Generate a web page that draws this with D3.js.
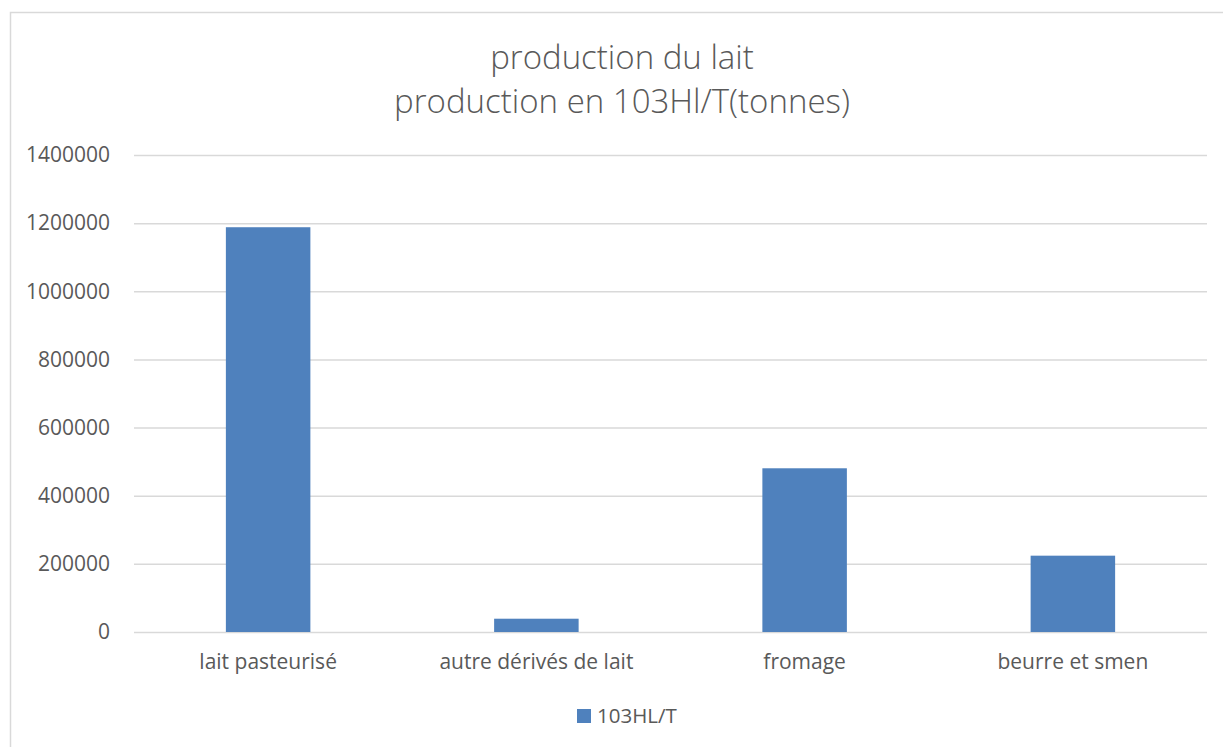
<!DOCTYPE html>
<html>
<head>
<meta charset="utf-8">
<script src="https://cdn.jsdelivr.net/npm/d3@7"></script>
<style>
  html, body { margin: 0; padding: 0; background: #fff; }
  svg { display: block; }
  text { font-family: "Open Sans", "Liberation Sans", sans-serif; fill: #595959; }
</style>
</head>
<body>
<svg id="chart" width="1223" height="747"></svg>
<script>
// Dairy production by product
const categories = ["lait pasteurisé", "autre dérivés de lait", "fromage", "beurre et smen"];
const values = [1188000, 39000, 480500, 224000];
const yTicks = [0, 200000, 400000, 600000, 800000, 1000000, 1200000, 1400000];
const titleLines = ["production du lait", "production en 103Hl/T(tonnes)"];
const seriesName = "103HL/T";

const svg = d3.select("#chart");
const W = 1223, H = 747;
const plot = { left: 134, right: 1207, top: 155, bottom: 632 };
const barColor = "#4f81bd";
const gridColor = "#d9d9d9";

svg.append("rect").attr("width", W).attr("height", H).attr("fill", "#fff");
// chart frame
svg.append("rect")
  .attr("x", 10.5).attr("y", 12.5)
  .attr("width", 1400).attr("height", 900)
  .attr("fill", "none").attr("stroke", gridColor).attr("stroke-width", 1.5);

// title
svg.append("g").selectAll("text").data(titleLines).join("text")
  .attr("x", 622)
  .attr("y", (d, i) => 69 + i * 44)
  .attr("text-anchor", "middle")
  .style("font-size", "33px")
  .style("font-weight", 300)
  .text(d => d);

const x = d3.scaleBand()
  .domain(categories)
  .range([plot.left, plot.right])
  .paddingInner(0.685)
  .paddingOuter(0.3425);

const y = d3.scaleLinear()
  .domain([0, 1400000])
  .range([plot.bottom, plot.top]);

// horizontal gridlines + value labels
const yAxis = d3.axisLeft(y)
  .tickValues(yTicks)
  .tickSize(-(plot.right - plot.left))
  .tickPadding(24)
  .tickFormat(d3.format("d"));

const gy = svg.append("g")
  .attr("transform", `translate(${plot.left},0)`)
  .call(yAxis);
gy.select(".domain").remove();
gy.selectAll(".tick line").attr("stroke", gridColor).attr("stroke-width", 1.5);
gy.selectAll(".tick text")
  .style("font-size", "21px")
  .attr("fill", "#595959")
  .attr("font-family", null);

// bars
svg.append("g").selectAll("rect").data(values).join("rect")
  .attr("x", (d, i) => x(categories[i]))
  .attr("y", d => y(d))
  .attr("width", x.bandwidth())
  .attr("height", d => y(0) - y(d))
  .attr("fill", barColor);

// category axis
const xAxis = d3.axisBottom(x).tickSize(0).tickPadding(22);
const gx = svg.append("g")
  .attr("transform", `translate(0,${plot.bottom})`)
  .call(xAxis);
gx.select(".domain").remove();
gx.selectAll(".tick text")
  .style("font-size", "21px")
  .attr("fill", "#595959")
  .attr("font-family", null);

// legend
const lg = svg.append("g").attr("transform", "translate(577,709)");
lg.append("rect").attr("width", 14).attr("height", 14).attr("fill", barColor);
lg.append("text").attr("x", 20).attr("y", 14)
  .style("font-size", "20.5px")
  .text(seriesName);
</script>
</body>
</html>
